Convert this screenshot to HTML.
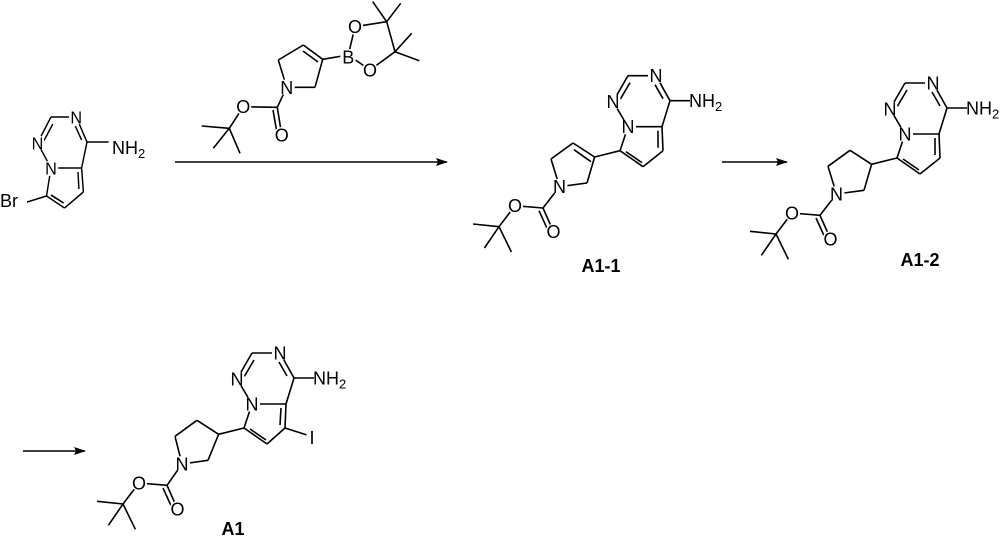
<!DOCTYPE html>
<html><head><meta charset="utf-8"><style>
html,body{margin:0;padding:0;background:#fff;}
svg{display:block;}
text{font-family:"Liberation Sans",sans-serif;font-size:18px;fill:#000;}
.a{text-anchor:middle;}
.lb{font-weight:bold;font-size:18px;text-anchor:middle;}
line{stroke:#000;stroke-width:1.6;fill:none;}
circle{fill:#fff;stroke:none;}
</style></head><body>
<svg width="1000" height="536" viewBox="0 0 1000 536" xmlns="http://www.w3.org/2000/svg">
<defs>
<marker id="ah" markerWidth="12" markerHeight="8" refX="11" refY="4" orient="auto" markerUnits="userSpaceOnUse"><path d="M0,0 L12,4 L0,8 L2,4 Z" fill="#000"/></marker>
</defs>

<line x1="175" y1="162" x2="447" y2="162" marker-end="url(#ah)"/>
<line x1="722" y1="162" x2="787" y2="162" marker-end="url(#ah)"/>
<line x1="23" y1="451" x2="85" y2="451" marker-end="url(#ah)"/>

<!-- starting material -->
<g transform="translate(51,168) scale(0.9,1)">
<line x1="-15" y1="-25" x2="0" y2="-51"/><line x1="-8" y1="-27" x2="2" y2="-44"/>
<line x1="0" y1="-51" x2="28" y2="-51"/>
<line x1="28" y1="-51" x2="40" y2="-26"/><line x1="27" y1="-42" x2="34" y2="-28"/>
<line x1="40" y1="-26" x2="34" y2="0"/>
<line x1="34" y1="0" x2="0" y2="0"/>
<line x1="0" y1="0" x2="-15" y2="-25"/>
<line x1="40" y1="-26" x2="64" y2="-26"/>
<line x1="0" y1="0" x2="-5" y2="28"/>
<line x1="-5" y1="28" x2="15" y2="40"/><line x1="0" y1="27" x2="14" y2="35"/>
<line x1="15" y1="40" x2="36" y2="24"/>
<line x1="36" y1="24" x2="34" y2="0"/><line x1="31" y1="21" x2="30" y2="4"/>
<line x1="-5" y1="28" x2="-30" y2="35"/>
<circle cx="28" cy="-51" r="8"/><circle cx="-15" cy="-25" r="8"/><circle cx="0" cy="0" r="8"/>
<text class="a" x="28" y="-44.5">N</text>
<text class="a" x="-15" y="-18.5">N</text>
<text class="a" x="0" y="6.5">N</text>
</g>
<rect x="0" y="190" width="27" height="20" fill="#fff"/>
<text x="0" y="207">Br</text>
<text x="112" y="154">NH<tspan font-size="13" dy="4">2</tspan></text>

<!-- reagent -->
<line x1="278.3" y1="60" x2="303.3" y2="45"/>
<line x1="303.3" y1="45" x2="322.7" y2="59.3"/><line x1="303" y1="51" x2="318" y2="62"/>
<line x1="322.7" y1="59.3" x2="315" y2="87.3"/>
<line x1="315" y1="87.3" x2="286.7" y2="87.3"/>
<line x1="286.7" y1="87.3" x2="278.3" y2="60"/>
<line x1="322.7" y1="59.3" x2="348.3" y2="55"/>
<line x1="348.3" y1="55" x2="355" y2="26.7"/>
<line x1="348.3" y1="55" x2="370" y2="70"/>
<line x1="355" y1="26.7" x2="386.7" y2="21.7"/>
<line x1="370" y1="70" x2="395" y2="51.7"/>
<line x1="386.7" y1="21.7" x2="395" y2="51.7"/>
<line x1="386.7" y1="21.7" x2="372.7" y2="1.7"/>
<line x1="386.7" y1="21.7" x2="400.7" y2="3.3"/>
<line x1="395" y1="51.7" x2="411.7" y2="33.3"/>
<line x1="395" y1="51.7" x2="419.3" y2="60.7"/>
<line x1="286.7" y1="87.3" x2="277.3" y2="107.3"/>
<line x1="277.3" y1="107.3" x2="243.3" y2="106.7"/>
<line x1="277.3" y1="107.3" x2="281.7" y2="135"/><line x1="273" y1="110" x2="277" y2="133"/>
<line x1="243.3" y1="106.7" x2="229.3" y2="128.3"/>
<line x1="229.3" y1="128.3" x2="201.7" y2="126"/>
<line x1="229.3" y1="128.3" x2="213.3" y2="148.3"/>
<line x1="229.3" y1="128.3" x2="240" y2="153.3"/>
<circle cx="286.7" cy="87.3" r="8"/><circle cx="348.3" cy="57" r="8"/><circle cx="355" cy="26.7" r="8"/><circle cx="370" cy="70" r="8"/><circle cx="243.3" cy="106.7" r="8"/><circle cx="281.7" cy="135" r="8"/>
<text class="a" x="286.7" y="93.8">N</text>
<text class="a" x="348.3" y="63.5">B</text>
<text class="a" x="355" y="33.2">O</text>
<text class="a" x="370" y="76.5">O</text>
<text class="a" x="243.3" y="113.2">O</text>
<text class="a" x="281.7" y="141.5">O</text>

<!-- A1-1 -->
<g transform="translate(628,126.7)">
<line x1="-15" y1="-25" x2="0" y2="-51"/><line x1="-8" y1="-27" x2="2" y2="-44"/>
<line x1="0" y1="-51" x2="28" y2="-51"/>
<line x1="28" y1="-51" x2="42" y2="-26"/><line x1="27" y1="-42" x2="35" y2="-28"/>
<line x1="42" y1="-26" x2="34" y2="0"/>
<line x1="34" y1="0" x2="0" y2="0"/>
<line x1="0" y1="0" x2="-15" y2="-25"/>
<line x1="42" y1="-26" x2="62" y2="-26"/>
<line x1="0" y1="0" x2="-8" y2="24"/>
<line x1="-8" y1="24" x2="15" y2="40"/><line x1="-2" y1="25" x2="14" y2="36"/>
<line x1="15" y1="40" x2="35" y2="24"/>
<line x1="35" y1="24" x2="34" y2="0"/><line x1="30" y1="21" x2="30" y2="4"/>
<line x1="-8" y1="24" x2="-33.4" y2="30.3"/>
<line x1="-33.4" y1="30.3" x2="-55" y2="16.3"/><line x1="-37" y1="35" x2="-54" y2="23"/>
<line x1="-55" y1="16.3" x2="-77" y2="32.3"/>
<line x1="-77" y1="32.3" x2="-68.5" y2="60"/>
<line x1="-68.5" y1="60" x2="-41" y2="56.3"/>
<line x1="-41" y1="56.3" x2="-33.4" y2="30.3"/>
<line x1="-68.5" y1="60" x2="-85" y2="81.3"/>
<line x1="-85" y1="81.3" x2="-113" y2="79"/>
<line x1="-85" y1="81.3" x2="-74.5" y2="105"/><line x1="-89" y1="84" x2="-79" y2="106"/>
<line x1="-113" y1="79" x2="-129" y2="100"/>
<line x1="-129" y1="100" x2="-155" y2="97.3"/>
<line x1="-129" y1="100" x2="-143.6" y2="121.3"/>
<line x1="-129" y1="100" x2="-116.6" y2="125.3"/>
<circle cx="28" cy="-51" r="8"/><circle cx="-15" cy="-25" r="8"/><circle cx="0" cy="0" r="8"/><circle cx="-68.5" cy="60" r="8"/><circle cx="-113" cy="79" r="8"/><circle cx="-74.5" cy="105" r="8"/>
<text class="a" x="28" y="-44.5">N</text>
<text class="a" x="-15" y="-18.5">N</text>
<text class="a" x="0" y="6.5">N</text>
<text class="a" x="-68.5" y="66.5">N</text>
<text class="a" x="-113" y="85.5">O</text>
<text class="a" x="-74.5" y="111.5">O</text>
<text x="61" y="-19.5">NH<tspan font-size="13" dy="4">2</tspan></text>
</g>
<text class="lb" x="601" y="272">A1-1</text>

<!-- A1-2 -->
<g transform="translate(905,134)">
<line x1="-15" y1="-25" x2="0" y2="-51"/><line x1="-8" y1="-27" x2="2" y2="-44"/>
<line x1="0" y1="-51" x2="28" y2="-51"/>
<line x1="28" y1="-51" x2="42" y2="-26"/><line x1="27" y1="-42" x2="35" y2="-28"/>
<line x1="42" y1="-26" x2="34" y2="0"/>
<line x1="34" y1="0" x2="0" y2="0"/>
<line x1="0" y1="0" x2="-15" y2="-25"/>
<line x1="42" y1="-26" x2="62" y2="-26"/>
<line x1="0" y1="0" x2="-8" y2="24"/>
<line x1="-8" y1="24" x2="15" y2="40"/><line x1="-2" y1="25" x2="14" y2="36"/>
<line x1="15" y1="40" x2="35" y2="24"/>
<line x1="35" y1="24" x2="34" y2="0"/><line x1="30" y1="21" x2="30" y2="4"/>
<line x1="-8" y1="24" x2="-33.4" y2="30.3"/>
<line x1="-33.4" y1="30.3" x2="-55" y2="16.3"/>
<line x1="-55" y1="16.3" x2="-77" y2="32.3"/>
<line x1="-77" y1="32.3" x2="-68.5" y2="60"/>
<line x1="-68.5" y1="60" x2="-41" y2="56.3"/>
<line x1="-41" y1="56.3" x2="-33.4" y2="30.3"/>
<line x1="-68.5" y1="60" x2="-85" y2="81.3"/>
<line x1="-85" y1="81.3" x2="-113" y2="79"/>
<line x1="-85" y1="81.3" x2="-74.5" y2="105"/><line x1="-89" y1="84" x2="-79" y2="106"/>
<line x1="-113" y1="79" x2="-129" y2="100"/>
<line x1="-129" y1="100" x2="-155" y2="97.3"/>
<line x1="-129" y1="100" x2="-143.6" y2="121.3"/>
<line x1="-129" y1="100" x2="-116.6" y2="125.3"/>
<circle cx="28" cy="-51" r="8"/><circle cx="-15" cy="-25" r="8"/><circle cx="0" cy="0" r="8"/><circle cx="-68.5" cy="60" r="8"/><circle cx="-113" cy="79" r="8"/><circle cx="-74.5" cy="105" r="8"/>
<text class="a" x="28" y="-44.5">N</text>
<text class="a" x="-15" y="-18.5">N</text>
<text class="a" x="0" y="6.5">N</text>
<text class="a" x="-68.5" y="66.5">N</text>
<text class="a" x="-113" y="85.5">O</text>
<text class="a" x="-74.5" y="111.5">O</text>
<text x="61" y="-19.5">NH<tspan font-size="13" dy="4">2</tspan></text>
</g>
<text class="lb" x="920" y="266">A1-2</text>

<!-- A1 -->
<g transform="translate(252,404)">
<line x1="-15" y1="-25" x2="0" y2="-51"/><line x1="-8" y1="-27" x2="2" y2="-44"/>
<line x1="0" y1="-51" x2="28" y2="-51"/>
<line x1="28" y1="-51" x2="42" y2="-26"/><line x1="27" y1="-42" x2="35" y2="-28"/>
<line x1="42" y1="-26" x2="34" y2="0"/>
<line x1="34" y1="0" x2="0" y2="0"/>
<line x1="0" y1="0" x2="-15" y2="-25"/>
<line x1="42" y1="-26" x2="62" y2="-26"/>
<line x1="0" y1="0" x2="-8" y2="24"/>
<line x1="-8" y1="24" x2="15" y2="40"/><line x1="-2" y1="25" x2="14" y2="36"/>
<line x1="15" y1="40" x2="33" y2="24"/>
<line x1="33" y1="24" x2="34" y2="0"/><line x1="28" y1="21" x2="29" y2="4"/>
<line x1="33" y1="24" x2="55" y2="31"/>
<line x1="-8" y1="24" x2="-33.4" y2="30.3"/>
<line x1="-33.4" y1="30.3" x2="-55" y2="16.3"/>
<line x1="-55" y1="16.3" x2="-77" y2="32.3"/>
<line x1="-77" y1="32.3" x2="-70" y2="60"/>
<line x1="-70" y1="60" x2="-44" y2="56.3"/>
<line x1="-44" y1="56.3" x2="-33.4" y2="30.3"/>
<line x1="-70" y1="60" x2="-85" y2="81.3"/>
<line x1="-85" y1="81.3" x2="-113" y2="79"/>
<line x1="-85" y1="81.3" x2="-74.5" y2="105"/><line x1="-89" y1="84" x2="-79" y2="106"/>
<line x1="-113" y1="79" x2="-129" y2="100"/>
<line x1="-129" y1="100" x2="-155" y2="97.3"/>
<line x1="-129" y1="100" x2="-143.6" y2="121.3"/>
<line x1="-129" y1="100" x2="-116.6" y2="125.3"/>
<circle cx="28" cy="-51" r="8"/><circle cx="-15" cy="-25" r="8"/><circle cx="0" cy="0" r="8"/><circle cx="-70" cy="60" r="8"/><circle cx="-113" cy="79" r="8"/><circle cx="-74.5" cy="105" r="8"/><circle cx="60" cy="33" r="6"/>
<text class="a" x="28" y="-44.5">N</text>
<text class="a" x="-15" y="-18.5">N</text>
<text class="a" x="0" y="6.5">N</text>
<text class="a" x="-70" y="66.5">N</text>
<text class="a" x="-113" y="85.5">O</text>
<text class="a" x="-74.5" y="111.5">O</text>
<text class="a" x="60" y="40">I</text>
<text x="61" y="-19.5">NH<tspan font-size="13" dy="4">2</tspan></text>
</g>
<text class="lb" x="233" y="535">A1</text>
</svg>
</body></html>
